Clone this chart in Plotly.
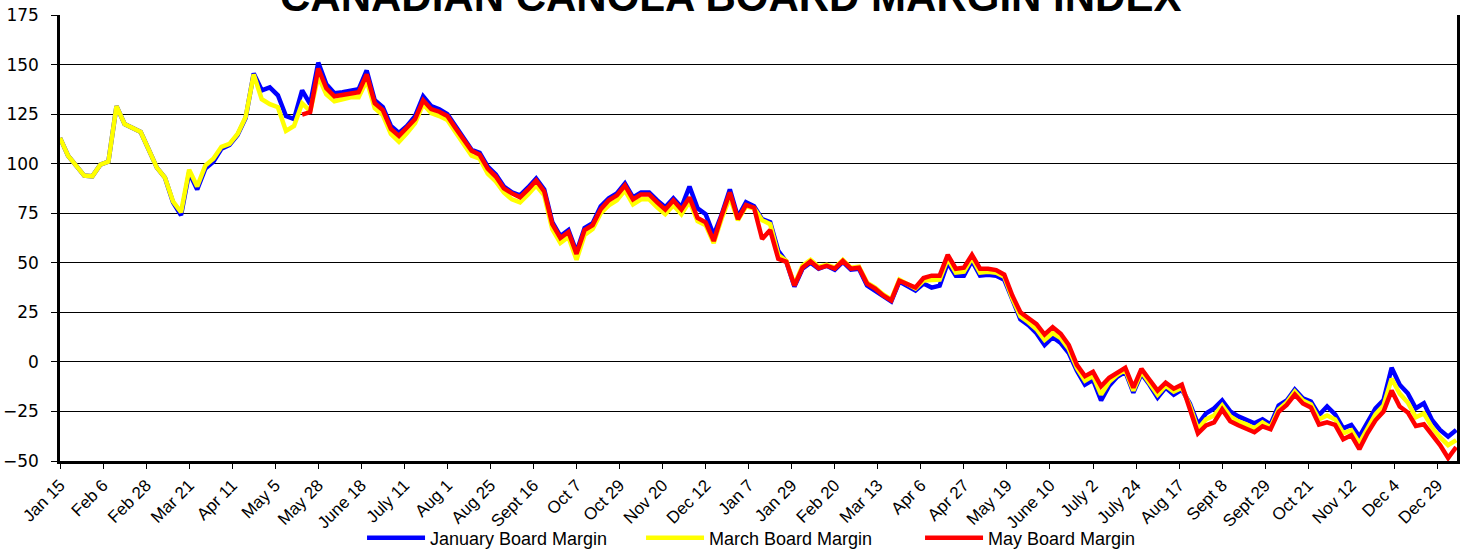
import plotly.graph_objects as go

# Trading-day index of each sample (every 3rd trading day); 16 trading days per labelled tick
day_index = list(range(0, 3 * 174, 3))

tick_labels = ["Jan 15", "Feb 6", "Feb 28", "Mar 21", "Apr 11", "May 5", "May 28", "June 18",
               "July 11", "Aug 1", "Aug 25", "Sept 16", "Oct 7", "Oct 29", "Nov 20", "Dec 12",
               "Jan 7", "Jan 29", "Feb 20", "Mar 13", "Apr 6", "Apr 27", "May 19", "June 10",
               "July 2", "July 24", "Aug 17", "Sept 8", "Sept 29", "Oct 21", "Nov 12", "Dec 4",
               "Dec 29"]
tick_index = [16 * i for i in range(len(tick_labels))]

january = [
    113, 104, 99, 94, 93.6, 99.5, 101, 129, 120, 118,
    116, 107, 98, 93, 80.5, 74, 95.5, 87, 97.5, 101,
    107.5, 109.5, 114.5, 123, 145.5, 137, 138.5, 134.5, 124, 122.5,
    137, 130, 151, 140, 135.5, 136, 137, 137.5, 147, 132,
    128.5, 119, 115.5, 119, 124, 134, 129, 127.5, 125, 119,
    113, 107, 105.5, 98.5, 94.5, 88.5, 85.5, 84, 88, 92.5,
    87, 70.5, 63.5, 66.5, 55.5, 67.5, 70, 78.5, 82.5, 85,
    90, 83, 85.5, 85.5, 81.5, 78, 82.5, 78, 88.5, 77.5,
    74.5, 64, 74.5, 87, 73, 80.5, 78.5, 72, 70.5, 56,
    50.5, 38, 47, 50, 47, 48.5, 46.5, 50.5, 46.5, 47,
    38.5, 36, 33, 30.5, 40.5, 38.5, 36, 39.5, 37.5, 38.5,
    50, 43.5, 43.5, 51, 43.5, 44, 43.5, 41.5, 31, 21.5,
    18.5, 14.5, 8.5, 12.5, 9.5, 4.5, -4.5, -11.5, -9, -19.5,
    -12, -7.5, -5, -15.5, -6, -11.5, -18, -13, -16.5, -14,
    -21, -31.5, -26, -23.5, -19.5, -25, -27.5, -29, -31, -29,
    -31.5, -22, -19.5, -14, -18.4, -20, -26.8, -22.5, -26.5, -33.5,
    -31.8, -37.7, -31, -23.4, -19.2, -3, -11.5, -15.8, -23.4, -20.9,
    -29.3, -34.3, -37.7, -34.3,
]

march = [
    113, 104, 99, 94, 93.6, 99.5, 101, 129, 120, 118,
    116, 107, 98, 93, 81, 75.5, 97, 88.5, 99, 102.5,
    108.5, 110, 115, 123.5, 145, 132.5, 130, 128.5, 116.5, 119,
    130.5, 126.5, 144, 135, 131.5, 132.5, 133.5, 133.5, 142, 128,
    124.5, 115, 111, 115.5, 120.5, 130, 125.5, 124, 122, 116,
    110, 104, 102.5, 95, 91, 85.5, 82, 80.5, 84.5, 89,
    84, 67, 60, 63, 51.5, 64, 67, 75, 79, 81.5,
    86.5, 79.5, 82, 82, 78, 74.5, 79, 74.5, 81, 71,
    69, 60, 72.5, 83, 71.5, 78.5, 77.5, 71.5, 69.5, 54,
    51, 39, 48.5, 51.5, 48, 49, 47.5, 51.5, 47.5, 48,
    40, 37.5, 34, 31.5, 41.5, 39.5, 37, 41, 41.5, 41.5,
    52, 45, 45.5, 52.5, 45, 45.5, 45, 43, 32, 23,
    20, 16.5, 11, 14.5, 12, 6.5, -3, -9.5, -7, -16.5,
    -10, -6.5, -4, -14.5, -5, -10.5, -16.5, -12, -15, -13,
    -22, -34, -29, -27, -22, -27.5, -30, -31.5, -33.5, -30.5,
    -33, -24, -20.5, -15, -19.5, -21.5, -29, -27, -29, -36,
    -34.5, -41, -33.5, -26.5, -22, -8.5, -16, -20.5, -28, -26,
    -33, -38, -42, -39.5,
]

may = [None] * 30 + [
    124.7, 126, 148, 138, 134, 134.8, 135.7, 136, 145, 130.5,
    127, 117.5, 114, 118, 122.5, 132, 127.5, 126.2, 124, 118,
    112.1, 106.5, 104.5, 97.5, 93.5, 87.5, 85, 83, 87, 91.5,
    86, 69.5, 62.5, 65.5, 54.5, 66.5, 69, 77, 81.5, 84,
    89, 82, 84.5, 84.5, 80.5, 76.8, 81.5, 76.8, 83, 72.6,
    70.4, 61, 74, 85.5, 72, 79.2, 77.8, 62, 66.5, 52,
    50.5, 38.5, 47.5, 50.7, 47.3, 48.5, 47, 51, 47, 47.5,
    39.5, 37, 33.5, 31, 41, 39.3, 37.5, 42.3, 43.5, 43.5,
    54, 47, 47.5, 54, 47, 47, 46.3, 44, 33.5, 25,
    22, 19, 13.8, 17.5, 14.2, 8.5, -1.5, -7.2, -5, -12.3,
    -8, -5.2, -3, -13, -3.5, -9, -14.5, -10.5, -13.5, -11.5,
    -23.5, -36, -32, -30.5, -24, -30, -32, -33.7, -35.5, -32.5,
    -34, -25.2, -21.7, -16.5, -21, -23, -31.6, -30.5, -31.8, -39,
    -37, -44, -36, -29.5, -25, -14.5, -22.5, -25.5, -32.3, -31.5,
    -37, -42, -48.5, -43,
]

series = [
    ("January Board Margin", january, "#0000FF"),
    ("March Board Margin", march, "#FFFF00"),
    ("May Board Margin", may, "#FF0000"),
]

fig = go.Figure()
for name, vals, color in series:
    fig.add_trace(go.Scatter(
        x=day_index, y=vals, name=name, mode="lines",
        line=dict(color=color, width=4.5), connectgaps=False,
    ))

fig.update_layout(
    width=1467, height=550,
    margin=dict(l=60, r=10, t=15, b=89, autoexpand=False),
    paper_bgcolor="white", plot_bgcolor="white",
    font=dict(family="Liberation Sans, Arial, sans-serif", color="black"),
    showlegend=True,
    legend=dict(
        orientation="h", x=0.2162, xanchor="left", y=-0.173, yanchor="middle",
        font=dict(size=18, family="Liberation Sans, Arial, sans-serif"),
        entrywidth=206, entrywidthmode="pixels", itemwidth=58,
        bgcolor="rgba(0,0,0,0)",
    ),
    annotations=[dict(
        text="<b>CANADIAN CANOLA BOARD MARGIN INDEX</b>",
        xref="paper", yref="paper", x=0.4796, y=1, xanchor="center", yanchor="bottom",
        yshift=-7, showarrow=False,
        font=dict(size=42, family="Liberation Sans, Arial, sans-serif", color="black"),
    )],
)

fig.update_xaxes(
    range=[0, 519.3], tickmode="array", tickvals=tick_index, ticktext=tick_labels,
    tickangle=-45, tickfont=dict(size=17), ticks="outside", ticklen=5, tickcolor="black",
    showline=True, linecolor="black", linewidth=2.5, showgrid=False, zeroline=False,
    automargin=False,
)
fig.update_yaxes(
    range=[-50, 175], dtick=25, tick0=-50,
    tickfont=dict(size=17, family="DejaVu Sans, sans-serif"),
    ticks="outside", ticklen=6, tickcolor="black", ticklabelstandoff=9,
    showline=True, linecolor="black", linewidth=2.5, mirror=True,
    showgrid=True, gridcolor="black", gridwidth=1, zeroline=False,
    automargin=False,
)

fig.write_html("out.html", config={"displayModeBar": False},
               post_script="document.body.style.margin='0px';")
